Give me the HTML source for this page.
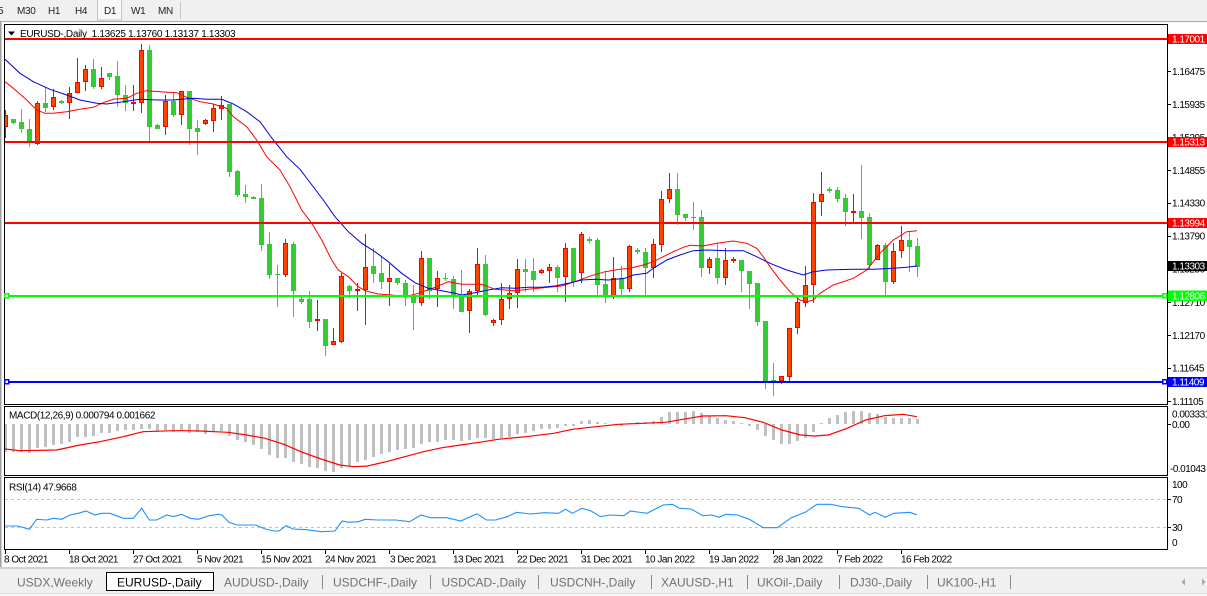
<!DOCTYPE html>
<html><head><meta charset="utf-8"><style>
html,body{margin:0;padding:0;background:#fff;width:1207px;height:596px;overflow:hidden}
svg{display:block}
text{font-family:"Liberation Sans",Arial,sans-serif}
</style></head><body>
<svg width="1207" height="596" viewBox="0 0 1207 596" xmlns="http://www.w3.org/2000/svg">
<defs>
<clipPath id="cm"><rect x="5" y="25" width="1162" height="379"/></clipPath>
<clipPath id="cd"><rect x="5" y="407" width="1162" height="68"/></clipPath>
<clipPath id="cr"><rect x="5" y="478" width="1162" height="71"/></clipPath>
</defs>
<rect width="1207" height="596" fill="#fff"/>
<!-- toolbar -->
<rect x="0" y="0" width="1207" height="21" fill="#f0f0f0"/>
<rect x="0" y="21" width="1207" height="1" fill="#a8a8a8"/>
<rect x="97.5" y="-1" width="24" height="21" fill="#f8f8f8" stroke="#c4c4c4"/>
<rect x="180" y="2" width="1" height="17" fill="#c4c4c4"/>
<g font-size="10" fill="#222" letter-spacing="-0.3">
<text x="-2" y="14">5</text>
<text x="17" y="14">M30</text>
<text x="48" y="14">H1</text>
<text x="75" y="14">H4</text>
<text x="104" y="14">D1</text>
<text x="131" y="14">W1</text>
<text x="158" y="14">MN</text>
</g>
<rect x="0" y="22" width="1.5" height="546" fill="#a0a0a0"/>

<!-- frames -->
<g fill="none" stroke="#000" shape-rendering="crispEdges">
<rect x="4.5" y="24.5" width="1163" height="380"/>
<rect x="4.5" y="406.5" width="1163" height="69"/>
<rect x="4.5" y="477.5" width="1163" height="72"/>
</g>

<!-- main chart -->
<g clip-path="url(#cm)" shape-rendering="crispEdges">
<path fill="none" stroke="#ff0000" stroke-width="1" d="M5.5 110V138M37.5 101V145M53.5 89V110M69.5 87V119M77.5 58V93M85.5 65V91M101.5 67V89M133.5 85V111M141.5 44V113M165.5 95V135M181.5 91V125M205.5 119V125M213.5 104V132M221.5 96V120M285.5 239V277M317.5 300V331M333.5 328V345M341.5 273V343M357.5 283V311M365.5 234V325M389.5 264V306M421.5 251V306M437.5 271V307M469.5 289V333M477.5 248V297M493.5 319V326M501.5 283V325M509.5 285V309M517.5 259V308M541.5 269V274M549.5 264V283M565.5 243V302M581.5 232V283M613.5 257V299M629.5 245V292M653.5 239V278M661.5 191V252M669.5 173V203M709.5 257V274M725.5 248V285M733.5 257V263M781.5 376V384M789.5 328V382M797.5 298V334M805.5 266V307M813.5 193V303M821.5 172V216M853.5 194V223M877.5 244V260M893.5 243V284M901.5 226V258"/>
<path fill="#32cd32" stroke="none" d="M13 119h1V124h-1zM21 109h1V133h-1zM29 119h1V147h-1zM45 87h1V112h-1zM61 100h1V104h-1zM93 59h1V89h-1zM109 73h1V80h-1zM117 61h1V107h-1zM125 85h1V111h-1zM149 45h1V141h-1zM157 124h1V129h-1zM173 93h1V117h-1zM189 91h1V145h-1zM197 120h1V155h-1zM229 104h1V177h-1zM237 170h1V197h-1zM245 185h1V203h-1zM253 196h1V199h-1zM261 184h1V251h-1zM269 232h1V279h-1zM277 265h1V307h-1zM293 242h1V317h-1zM301 295h1V304h-1zM309 291h1V328h-1zM325 319h1V356h-1zM349 285h1V298h-1zM373 248h1V283h-1zM381 256h1V289h-1zM397 278h1V285h-1zM405 280h1V306h-1zM413 285h1V330h-1zM429 258h1V299h-1zM445 273h1V281h-1zM453 276h1V309h-1zM461 270h1V312h-1zM485 255h1V316h-1zM525 259h1V292h-1zM533 258h1V292h-1zM557 265h1V292h-1zM573 248h1V287h-1zM589 237h1V243h-1zM597 238h1V297h-1zM605 272h1V303h-1zM621 266h1V295h-1zM637 248h1V254h-1zM645 248h1V296h-1zM677 173h1V225h-1zM685 214h1V221h-1zM693 202h1V230h-1zM701 210h1V277h-1zM717 243h1V284h-1zM741 260h1V292h-1zM749 271h1V309h-1zM757 283h1V326h-1zM765 321h1V389h-1zM773 363h1V396h-1zM829 187h1V193h-1zM837 187h1V202h-1zM845 194h1V226h-1zM861 165h1V239h-1zM869 213h1V270h-1zM885 243h1V297h-1zM909 232h1V272h-1zM917 238h1V277h-1z"/>
<path fill="#32cd32" d="M11 119h5V123h-5zM19 122h5V129h-5zM27 129h5V143h-5zM43 103h5V108h-5zM59 101h5V103h-5zM91 69h5V87h-5zM107 73h5V77h-5zM115 76h5V95h-5zM123 95h5V103h-5zM147 50h5V127h-5zM155 125h5V129h-5zM171 101h5V115h-5zM187 91h5V129h-5zM195 128h5V132h-5zM227 104h5V172h-5zM235 171h5V195h-5zM243 194h5V197h-5zM251 197h5V199h-5zM259 198h5V245h-5zM267 244h5V275h-5zM275 274h5V275h-5zM291 244h5V291h-5zM299 299h5V302h-5zM307 299h5V322h-5zM323 319h5V346h-5zM347 286h5V291h-5zM371 266h5V274h-5zM379 273h5V282h-5zM395 278h5V283h-5zM403 283h5V297h-5zM411 295h5V303h-5zM427 258h5V291h-5zM443 278h5V279h-5zM451 279h5V296h-5zM459 296h5V312h-5zM483 264h5V315h-5zM523 269h5V272h-5zM531 271h5V280h-5zM555 267h5V278h-5zM571 248h5V282h-5zM587 239h5V241h-5zM595 240h5V285h-5zM603 284h5V297h-5zM619 278h5V289h-5zM635 250h5V252h-5zM643 252h5V268h-5zM675 189h5V215h-5zM683 214h5V218h-5zM691 217h5V218h-5zM699 217h5V268h-5zM715 258h5V278h-5zM739 260h5V271h-5zM747 271h5V284h-5zM755 283h5V322h-5zM763 321h5V381h-5zM771 380h5V381h-5zM827 189h5V191h-5zM835 190h5V199h-5zM843 198h5V212h-5zM859 211h5V218h-5zM867 217h5V265h-5zM883 245h5V282h-5zM907 240h5V247h-5zM915 246h5V267h-5z"/>
<path fill="#ff4500" stroke="#ff0000" stroke-width="1" d="M3.5 115.5h4V126.5h-4zM35.5 103.5h4V143.5h-4zM51.5 97.5h4V106.5h-4zM67.5 93.5h4V102.5h-4zM75.5 82.5h4V92.5h-4zM83.5 69.5h4V81.5h-4zM99.5 78.5h4V86.5h-4zM131.5 102.5h4V103.5h-4zM139.5 50.5h4V102.5h-4zM163.5 101.5h4V126.5h-4zM179.5 91.5h4V114.5h-4zM203.5 120.5h4V123.5h-4zM211.5 108.5h4V120.5h-4zM219.5 105.5h4V108.5h-4zM283.5 243.5h4V274.5h-4zM315.5 319.5h4V320.5h-4zM331.5 341.5h4V344.5h-4zM339.5 276.5h4V341.5h-4zM355.5 289.5h4V290.5h-4zM363.5 267.5h4V289.5h-4zM387.5 278.5h4V281.5h-4zM419.5 258.5h4V302.5h-4zM435.5 278.5h4V288.5h-4zM467.5 291.5h4V310.5h-4zM475.5 264.5h4V290.5h-4zM491.5 320.5h4V322.5h-4zM499.5 299.5h4V319.5h-4zM507.5 293.5h4V298.5h-4zM515.5 269.5h4V292.5h-4zM539.5 270.5h4V272.5h-4zM547.5 267.5h4V270.5h-4zM563.5 248.5h4V276.5h-4zM579.5 234.5h4V272.5h-4zM611.5 278.5h4V296.5h-4zM627.5 246.5h4V288.5h-4zM651.5 244.5h4V267.5h-4zM659.5 199.5h4V244.5h-4zM667.5 189.5h4V198.5h-4zM707.5 259.5h4V267.5h-4zM723.5 260.5h4V277.5h-4zM731.5 259.5h4V260.5h-4zM779.5 376.5h4V380.5h-4zM787.5 328.5h4V376.5h-4zM795.5 302.5h4V327.5h-4zM803.5 285.5h4V302.5h-4zM811.5 202.5h4V284.5h-4zM819.5 194.5h4V201.5h-4zM851.5 211.5h4V212.5h-4zM875.5 245.5h4V259.5h-4zM891.5 251.5h4V281.5h-4zM899.5 240.5h4V250.5h-4z"/>
</g>
<g clip-path="url(#cm)" fill="none" stroke-width="1">
<polyline stroke="#ff0000" points="5,81.7 13.3,88.3 26.7,100 36.7,110 45,113.3 53.3,113.3 66.7,111.7 80,109.3 93.3,107.3 103.3,102.7 113.3,99.3 126.7,98.3 136.7,93.3 146.7,90.7 160,91.7 176.7,92.7 186.7,97.3 200,101.7 213.3,104 226.7,108.3 233.3,116.7 246.7,126.7 256.7,140 266.7,156.7 280,170 290,186.7 301.7,210 311.7,223.3 321.7,240 331.7,260 338.3,270 348.3,276.7 358.3,286.7 365,290.7 378.3,294 391.7,295 405,296.7 418.3,293.3 435,287.3 448.3,281.7 461.7,284.3 481.7,284.3 495,289.3 515,290.7 528.3,289.3 548.3,287.3 561.7,286 575,281.7 588.3,276.7 605,271.7 620,269.3 630,268.3 643.3,265 653.3,261.7 663.3,256.7 673.3,251.7 683.3,247.3 690,245.3 703.3,246 716.7,243.3 733.3,241 746.7,243.3 756.7,248.3 763.3,256.7 770,266.7 780,280 790,291.7 800,300 806.7,301.7 813.3,300 820,293.3 833.3,285 853.3,278.3 866.7,270 880,253.3 893.3,240 906.7,231.7 917,230.7"/>
<polyline stroke="#0000dd" points="5,59.3 20,73.3 33.3,81.7 50,89.3 66.7,95 80,100 96.7,103.3 106.7,104 123.3,101.7 140,99.3 156.7,100 173.3,100 193.3,98.3 206.7,99.3 221.7,99.3 233.3,104 246.7,111.7 260,121.7 273.3,140 286.7,156.7 300,169.3 323.3,200 335,216.7 348.3,231.7 361.7,243.3 375,251.7 388.3,261.7 401.7,273.3 415,282.7 428.3,288.3 441.7,290.7 455,293.3 461.7,295 475,292.7 488.3,290 501.7,287.7 515,288.3 528.3,287.3 541.7,287.3 555,286 568.3,283.3 581.7,280 595,279.3 608.3,280 625,278.3 633.3,275 646.7,273.3 653.3,268.3 666.7,260 680,255 693.3,250.7 706.7,250 726.7,250.7 743.3,250.7 756.7,256.7 770,263.3 786.7,270 803.3,275 813.3,271.7 826.7,270 853.3,269.3 873.3,269.3 893.3,268.3 906.7,267.3 917,266"/>
</g>
<!-- horizontal lines -->
<g shape-rendering="crispEdges">
<rect x="5" y="38" width="1162" height="2" fill="#ff0000"/>
<rect x="5" y="141" width="1162" height="2" fill="#ff0000"/>
<rect x="5" y="222" width="1162" height="2" fill="#ff0000"/>
<rect x="5" y="295" width="1162" height="2" fill="#00ff00"/>
<rect x="5" y="381" width="1162" height="2" fill="#0000ff"/>
<rect x="4.5" y="293.5" width="4" height="4" fill="#fff" stroke="#00ff00" stroke-width="1.5"/>
<rect x="1162.5" y="293.5" width="4" height="4" fill="#fff" stroke="#00ff00" stroke-width="1.5"/>
<rect x="4.5" y="379.5" width="4" height="4" fill="#fff" stroke="#0000ff" stroke-width="1.5"/>
<rect x="1162.5" y="379.5" width="4" height="4" fill="#fff" stroke="#0000ff" stroke-width="1.5"/>
</g>
<!-- header -->
<polygon points="8,31.5 15,31.5 11.5,35.5" fill="#000"/>
<text x="20" y="37" font-size="10" fill="#000" letter-spacing="-0.3" xml:space="preserve">EURUSD-,Daily  1.13625 1.13760 1.13137 1.13303</text>

<!-- price axis -->
<g shape-rendering="crispEdges" fill="#000">
<rect x="1168" y="71" width="3" height="1"/><rect x="1168" y="104" width="3" height="1"/><rect x="1168" y="137" width="3" height="1"/><rect x="1168" y="170" width="3" height="1"/><rect x="1168" y="203" width="3" height="1"/><rect x="1168" y="236" width="3" height="1"/><rect x="1168" y="269" width="3" height="1"/><rect x="1168" y="302" width="3" height="1"/><rect x="1168" y="335" width="3" height="1"/><rect x="1168" y="368" width="3" height="1"/><rect x="1168" y="401" width="3" height="1"/>
<rect x="1168" y="424" width="3" height="1"/><rect x="1168" y="499" width="3" height="1"/><rect x="1168" y="527" width="3" height="1"/>
</g>
<g font-size="10" fill="#000" letter-spacing="-0.5">
<text x="1172" y="75.2">1.16475</text>
<text x="1172" y="107.9">1.15935</text>
<text x="1172" y="140.8">1.15395</text>
<text x="1172" y="174">1.14855</text>
<text x="1172" y="206.5">1.14330</text>
<text x="1172" y="239.6">1.13790</text>
<text x="1172" y="272.7">1.13250</text>
<text x="1172" y="306">1.12710</text>
<text x="1172" y="339.2">1.12170</text>
<text x="1172" y="371.4">1.11645</text>
<text x="1172" y="405">1.11105</text>
</g>
<g shape-rendering="crispEdges">
<rect x="1168" y="34" width="39" height="10" fill="#ff0000"/>
<rect x="1168" y="137" width="39" height="10" fill="#ff0000"/>
<rect x="1168" y="218" width="39" height="10" fill="#ff0000"/>
<rect x="1168" y="261" width="39" height="10" fill="#000"/>
<rect x="1168" y="290.5" width="39" height="10.5" fill="#00ff00"/>
<rect x="1168" y="377" width="39" height="10" fill="#0000ff"/>
</g>
<g font-size="10" fill="#fff" letter-spacing="-0.5">
<text x="1172" y="42.6">1.17001</text>
<text x="1172" y="145.6">1.15313</text>
<text x="1172" y="226.6">1.13994</text>
<text x="1172" y="269.6">1.13303</text>
<text x="1172" y="299.6">1.12806</text>
<text x="1172" y="385.6">1.11409</text>
</g>

<!-- MACD -->
<g clip-path="url(#cd)">
<path shape-rendering="crispEdges" fill="#c0c0c0" d="M4 424h3V452h-3zM12 424h3V452h-3zM20 424h3V452h-3zM28 424h3V453h-3zM36 424h3V448h-3zM44 424h3V447h-3zM52 424h3V445h-3zM60 424h3V444h-3zM68 424h3V442h-3zM76 424h3V437h-3zM84 424h3V437h-3zM92 424h3V436h-3zM100 424h3V433h-3zM108 424h3V433h-3zM116 424h3V431h-3zM124 424h3V430h-3zM132 424h3V430h-3zM140 424h3V429h-3zM148 424h3V429h-3zM156 424h3V432h-3zM164 424h3V430h-3zM172 424h3V432h-3zM180 424h3V431h-3zM188 424h3V433h-3zM196 424h3V432h-3zM204 424h3V434h-3zM212 424h3V431h-3zM220 424h3V431h-3zM228 424h3V436h-3zM236 424h3V440h-3zM244 424h3V442h-3zM252 424h3V445h-3zM260 424h3V449h-3zM268 424h3V455h-3zM276 424h3V458h-3zM284 424h3V458h-3zM292 424h3V462h-3zM300 424h3V464h-3zM308 424h3V467h-3zM316 424h3V468h-3zM324 424h3V471h-3zM332 424h3V472h-3zM340 424h3V468h-3zM348 424h3V466h-3zM356 424h3V462h-3zM364 424h3V460h-3zM372 424h3V457h-3zM380 424h3V454h-3zM388 424h3V452h-3zM396 424h3V450h-3zM404 424h3V449h-3zM412 424h3V448h-3zM420 424h3V444h-3zM428 424h3V442h-3zM436 424h3V442h-3zM444 424h3V440h-3zM452 424h3V440h-3zM460 424h3V441h-3zM468 424h3V440h-3zM476 424h3V438h-3zM484 424h3V438h-3zM492 424h3V439h-3zM500 424h3V438h-3zM508 424h3V437h-3zM516 424h3V434h-3zM524 424h3V433h-3zM532 424h3V431h-3zM540 424h3V429h-3zM548 424h3V429h-3zM556 424h3V428h-3zM564 424h3V426h-3zM572 424h3V426h-3zM580 424h3V421h-3zM588 424h3V420h-3zM596 424h3V422h-3zM604 424h3V423h-3zM612 424h3V425h-3zM620 424h3V426h-3zM628 424h3V423h-3zM636 424h3V422h-3zM644 424h3V422h-3zM652 424h3V421h-3zM660 424h3V417h-3zM668 424h3V412h-3zM676 424h3V412h-3zM684 424h3V412h-3zM692 424h3V411h-3zM700 424h3V413h-3zM708 424h3V416h-3zM716 424h3V418h-3zM724 424h3V420h-3zM732 424h3V421h-3zM740 424h3V423h-3zM748 424h3V426h-3zM756 424h3V430h-3zM764 424h3V436h-3zM772 424h3V440h-3zM780 424h3V444h-3zM788 424h3V444h-3zM796 424h3V441h-3zM804 424h3V438h-3zM812 424h3V432h-3zM820 424h3V423h-3zM828 424h3V418h-3zM836 424h3V415h-3zM844 424h3V412h-3zM852 424h3V411h-3zM860 424h3V411h-3zM868 424h3V413h-3zM876 424h3V414h-3zM884 424h3V417h-3zM892 424h3V418h-3zM900 424h3V418h-3zM908 424h3V418h-3zM916 424h3V419h-3z"/>
<polyline fill="none" stroke="#ff0000" stroke-width="1.2" points="5,449 20,450.7 56.7,450 80,445 100,441.7 123,436.7 143,431.7 173,430.7 187,430.7 200,431 228,432.3 246.6,435 265.2,438.3 283.8,444.3 302.4,452.3 321,459 339.7,465 353.6,466.7 367.6,466 386.2,461.7 404.8,456.7 423.5,451.7 442.1,447.7 460.7,445 479.3,442.3 498,439.3 525.9,436.7 553.8,433.3 572.4,429.3 595.7,426.7 619,424.3 642.3,423.3 665.5,422.3 688.8,418.3 702.8,416 726,415.7 744.7,417.7 763.3,422.3 782,430 800.6,435 814.5,436 828.5,435 847.1,428.3 865.7,420 884.4,415.7 903,414.3 917,416.7"/>
</g>
<text x="9" y="418.5" font-size="10" fill="#000" letter-spacing="-0.4">MACD(12,26,9) 0.000794 0.001662</text>
<g font-size="10" fill="#000" letter-spacing="-0.5">
<text x="1172" y="417.6">0.003331</text>
<text x="1172" y="428">0.00</text>
<text x="1170" y="472">-0.01043</text>
</g>

<!-- RSI -->
<g clip-path="url(#cr)">
<line x1="5" y1="499.5" x2="1167" y2="499.5" stroke="#c0c0c0" stroke-dasharray="3,3"/>
<line x1="5" y1="527.5" x2="1167" y2="527.5" stroke="#c0c0c0" stroke-dasharray="3,3"/>
<polyline fill="none" stroke="#1e90ff" stroke-width="1.1" points="5,526 18.3,526 29.3,529.3 36.7,519.3 46.7,520 53.3,518.3 61.7,519.3 70,515 78.3,513.3 86,511 95,515 101.7,513.3 110,513.3 123.3,518.3 133.3,518.3 141.7,508.3 149.3,520 156.7,520 166.7,515 173.3,516.7 181.7,514.3 190,518.3 198.3,519.3 209.3,515.7 218.6,514.3 222,515 228.9,522.3 237.2,525 255.9,525 265.2,529 274.5,531 279,531 286.1,525.7 293.1,529 307,529.7 321,531.7 335,531 342,521 349,522.3 358.3,521.7 365.3,519.3 376.9,520 395.5,520 409.5,521.7 421.1,515 430.4,517.7 446.7,517.7 460.7,521 477,513.7 486.3,520 495.6,520 507.3,516.7 516.6,512.3 530.5,514 544.5,512.7 558.5,513.3 565.5,509.3 572.4,513.3 581.8,508.3 591.1,511 600.4,516.7 609.7,515 623.6,515.7 630.6,511 646.9,513.3 663.2,505 672.5,504.3 679.5,508.3 691.1,509 702.8,515.7 712.1,515 719.1,517.3 726,514.3 737.7,515 749.3,519.3 763.3,527.7 777.3,527.7 791.2,517.7 805.2,512.3 816.9,504.3 830.8,504.3 842.5,506.7 858.8,508.3 869.5,515 875,512.3 885.3,517.3 893.7,513.3 910,512.3 917,515"/>
</g>
<text x="9" y="490.5" font-size="10" fill="#000" letter-spacing="-0.4">RSI(14) 47.9668</text>
<g font-size="10" fill="#000" letter-spacing="-0.5">
<text x="1172" y="488">100</text>
<text x="1172" y="503">70</text>
<text x="1172" y="531">30</text>
<text x="1172" y="546">0</text>
</g>

<!-- date axis -->
<path shape-rendering="crispEdges" stroke="#000" d="M5.5 550V554M69.5 550V554M133.5 550V554M197.5 550V554M261.5 550V554M325.5 550V554M389.5 550V554M453.5 550V554M517.5 550V554M581.5 550V554M645.5 550V554M709.5 550V554M773.5 550V554M837.5 550V554M901.5 550V554"/>
<g font-size="10" fill="#000" letter-spacing="-0.5">
<text x="4" y="562.5">8 Oct 2021</text>
<text x="69" y="562.5">18 Oct 2021</text>
<text x="133" y="562.5">27 Oct 2021</text>
<text x="197" y="562.5">5 Nov 2021</text>
<text x="261" y="562.5">15 Nov 2021</text>
<text x="325" y="562.5">24 Nov 2021</text>
<text x="390" y="562.5">3 Dec 2021</text>
<text x="453" y="562.5">13 Dec 2021</text>
<text x="517" y="562.5">22 Dec 2021</text>
<text x="581" y="562.5">31 Dec 2021</text>
<text x="645" y="562.5">10 Jan 2022</text>
<text x="709" y="562.5">19 Jan 2022</text>
<text x="773" y="562.5">28 Jan 2022</text>
<text x="837" y="562.5">7 Feb 2022</text>
<text x="901" y="562.5">16 Feb 2022</text>
</g>

<!-- tab bar -->
<rect x="0" y="567" width="1207" height="29" fill="#f0f0f0"/>
<rect x="0" y="567" width="1207" height="2" fill="#d2d2d2"/>
<rect x="0" y="593" width="1207" height="1" fill="#dcdcdc"/>
<rect x="0" y="594" width="1207" height="2" fill="#f7f7f7"/>
<rect x="106.5" y="572.5" width="107" height="18" fill="#fff" stroke="#000" shape-rendering="crispEdges"/>
<path shape-rendering="crispEdges" stroke="#8a8a8a" d="M322.5 575V589M430.5 575V589M538.5 575V589M651.5 575V589M747.5 575V589M839.5 575V589M927.5 575V589M1010.5 575V589"/>
<g font-size="12" fill="#707070">
<text x="17" y="586.5">USDX,Weekly</text>
<text x="117" y="586.5" fill="#000">EURUSD-,Daily</text>
<text x="224" y="586.5">AUDUSD-,Daily</text>
<text x="333" y="586.5">USDCHF-,Daily</text>
<text x="441.5" y="586.5">USDCAD-,Daily</text>
<text x="550" y="586.5">USDCNH-,Daily</text>
<text x="661" y="586.5">XAUUSD-,H1</text>
<text x="757" y="586.5">UKOil-,Daily</text>
<text x="850" y="586.5">DJ30-,Daily</text>
<text x="937" y="586.5">UK100-,H1</text>
</g>
<polygon points="1185,578.5 1185,585.5 1181.5,582" fill="#a8a8a8"/>
<polygon points="1202,578.5 1202,585.5 1205.5,582" fill="#a8a8a8"/>
</svg>
</body></html>
